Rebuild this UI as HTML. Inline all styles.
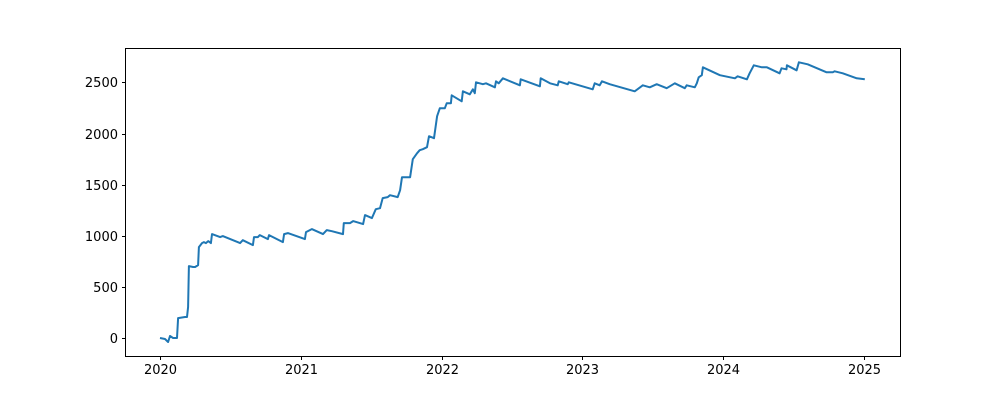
<!DOCTYPE html>
<html><head><meta charset="utf-8"><style>
body{margin:0;background:#fff}
svg{display:block}
text{font-family:"DejaVu Sans","Liberation Sans",sans-serif;font-size:13px;fill:#000}
</style></head><body>
<svg id="chart" width="1000" height="400" xmlns="http://www.w3.org/2000/svg">
<rect x="125.5" y="48.5" width="775" height="308" fill="none" stroke="#000" stroke-width="1"/>
<g id="xt"></g>
<g id="yt"></g>
<path id="line" fill="none" stroke="#1f77b4" stroke-width="2" stroke-linejoin="round"/>
</svg>
<script>
// days since 2020-01-01
const days=[0,13,21,26,34,44,47,65,70,73,75,86,91,99,101,109,114,119,125,132,135,156,163,208,215,241,244,254,259,280,283,319,322,332,376,379,394,423,433,446,475,477,493,501,527,532,550,560,571,578,591,597,617,623,628,649,656,667,674,682,693,698,711,719,726,739,744,755,757,783,786,804,812,817,820,838,846,869,872,879,890,934,936,986,988,1012,1032,1035,1058,1061,1123,1128,1141,1147,1167,1232,1253,1271,1289,1315,1336,1362,1367,1388,1393,1398,1406,1409,1453,1492,1499,1523,1530,1541,1562,1575,1608,1613,1626,1627,1652,1658,1681,1730,1746,1751,1772,1808,1829];
const values=[0,-10,-39,20,0,0,195,205,205,303,703,694,694,713,889,928,938,928,948,928,1016,987,997,928,957,909,987,987,1006,967,1006,938,1016,1026,967,1036,1065,1016,1055,1045,1016,1124,1124,1143,1114,1202,1173,1260,1270,1368,1378,1397,1378,1446,1573,1573,1749,1807,1837,1847,1866,1974,1954,2169,2247,2247,2296,2296,2374,2315,2413,2384,2433,2394,2501,2482,2491,2452,2511,2491,2540,2472,2530,2462,2540,2491,2472,2511,2482,2501,2433,2491,2472,2511,2482,2413,2472,2452,2482,2443,2491,2443,2472,2452,2491,2550,2570,2648,2570,2540,2560,2530,2589,2667,2648,2648,2589,2638,2628,2667,2618,2697,2677,2599,2599,2609,2589,2540,2530];
const xTickDays=[0,366,731,1096,1461,1827];
const xTickLabels=["2020","2021","2022","2023","2024","2025"];
const yTicks=[0,500,1000,1500,2000,2500];
const X=d=>160+d*704/1827;
const Y=v=>338-v*255.6/2500;
const NS="http://www.w3.org/2000/svg";
let d="";
for(let i=0;i<days.length;i++){d+=(i?"L":"M")+X(days[i]).toFixed(1)+","+Y(values[i]).toFixed(1);}
document.getElementById("line").setAttribute("d",d);
const xt=document.getElementById("xt");
xTickDays.forEach((t,i)=>{
 const x=Math.round(X(t))+0.5;
 const l=document.createElementNS(NS,"line");
 
 
 l.setAttribute("x1",x);l.setAttribute("x2",x);l.setAttribute("y1",356.5);l.setAttribute("y2",360);l.setAttribute("stroke","#000");
 xt.appendChild(l);
 const tx=document.createElementNS(NS,"text");
 
 
 tx.setAttribute("x",x);tx.setAttribute("y",374);tx.setAttribute("text-anchor","middle");
 tx.textContent=xTickLabels[i];xt.appendChild(tx);
});
const yt=document.getElementById("yt");
yTicks.forEach(v=>{
 const y=Math.round(Y(v))+0.5;
 const l=document.createElementNS(NS,"line");
 
 
 l.setAttribute("x1",122);l.setAttribute("x2",125.5);l.setAttribute("y1",y);l.setAttribute("y2",y);l.setAttribute("stroke","#000");
 yt.appendChild(l);
 const tx=document.createElementNS(NS,"text");
 
 
 tx.setAttribute("x",118);tx.setAttribute("y",y+4.5);tx.setAttribute("text-anchor","end");
 tx.textContent=String(v);yt.appendChild(tx);
});
</script>
</body></html>
